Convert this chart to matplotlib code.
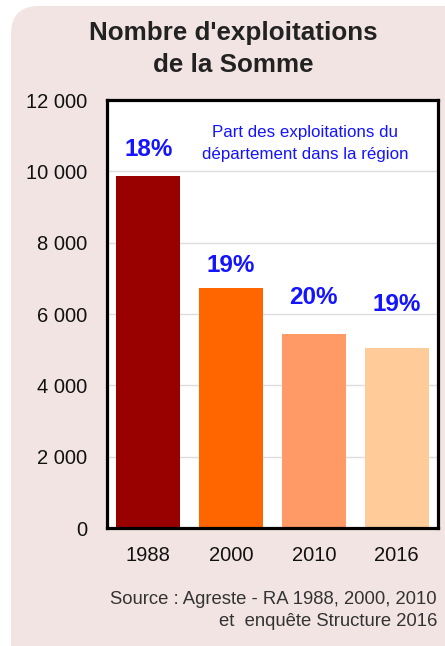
import matplotlib
matplotlib.use("Agg")
import matplotlib.pyplot as plt
import matplotlib.patches as mpatches
from matplotlib.transforms import IdentityTransform
from matplotlib.ticker import FuncFormatter

plt.rcParams["font.family"] = ["Liberation Sans", "DejaVu Sans"]

# données
annees = ["1988", "2000", "2010", "2016"]
exploitations = [9880, 6740, 5450, 5050]
parts = ["18%", "19%", "20%", "19%"]
parts_y = [10620, 7370, 6450, 6280]
couleurs = ["#990000", "#ff6600", "#ff9966", "#ffcc99"]
y_ticks = [0, 2000, 4000, 6000, 8000, 10000, 12000]

fig = plt.figure(figsize=(4.45, 6.46), dpi=100)
fig.patch.set_facecolor("white")

# fond rose arrondi (coordonnées en pixels)
fond = mpatches.FancyBboxPatch((11, -40), 480, 680,
                               boxstyle="round,pad=0,rounding_size=28",
                               transform=IdentityTransform(),
                               facecolor="#f3e4e4", edgecolor="none", zorder=-10)
fig.patches.append(fond)

ax = fig.add_axes([107 / 445, 1 - 528 / 646, (438 - 107) / 445, (528 - 100) / 646])
ax.set_zorder(1)
ax.set_facecolor("white")

x = range(len(annees))
ax.bar(x, exploitations, width=0.775, color=couleurs, zorder=3)

for i, (p, py) in enumerate(zip(parts, parts_y)):
    ax.text(i, py, p, ha="center", va="center", color="#1414ff",
            fontsize=17.5, fontweight="bold", zorder=4)

ax.set_xlim(-0.5, 3.5)
ax.set_ylim(0, 12000)
ax.set_xticks(list(x))
ax.set_xticklabels(annees)
ax.set_yticks(y_ticks)
ax.yaxis.set_major_formatter(FuncFormatter(lambda v, pos: f"{int(v):,}".replace(",", " ")))
ax.tick_params(axis="both", length=0, labelsize=14.5, colors="#111111")
ax.tick_params(axis="y", pad=14)
ax.tick_params(axis="x", pad=13)
ax.grid(axis="y", color="#dddddd", linewidth=1, zorder=1)
ax.set_axisbelow(True)
for s in ax.spines.values():
    s.set_linewidth(2.3)
    s.set_color("black")
    s.set_zorder(5)

# titre
fig.text(233 / 445, 1 - 33 / 646, "Nombre d'exploitations", ha="center", va="center",
         fontsize=18.7, fontweight="bold", color="#222222")
fig.text(233 / 445, 1 - 65 / 646, "de la Somme", ha="center", va="center",
         fontsize=18.7, fontweight="bold", color="#222222")

# légende des pourcentages
fig.text(305 / 445, 1 - 133 / 646, "Part des exploitations du", ha="center", va="center",
         fontsize=12.2, color="#1414ff", zorder=5)
fig.text(305 / 445, 1 - 155 / 646, "département dans la région", ha="center", va="center",
         fontsize=12.2, color="#1414ff", zorder=5)

# source
fig.text(437 / 445, 1 - 600 / 646, "Source : Agreste - RA 1988, 2000, 2010", ha="right",
         va="center", fontsize=13.3, color="#333333")
fig.text(437 / 445, 1 - 622 / 646, "et  enquête Structure 2016", ha="right",
         va="center", fontsize=13.3, color="#333333")

fig.savefig("out.png", dpi=100)
